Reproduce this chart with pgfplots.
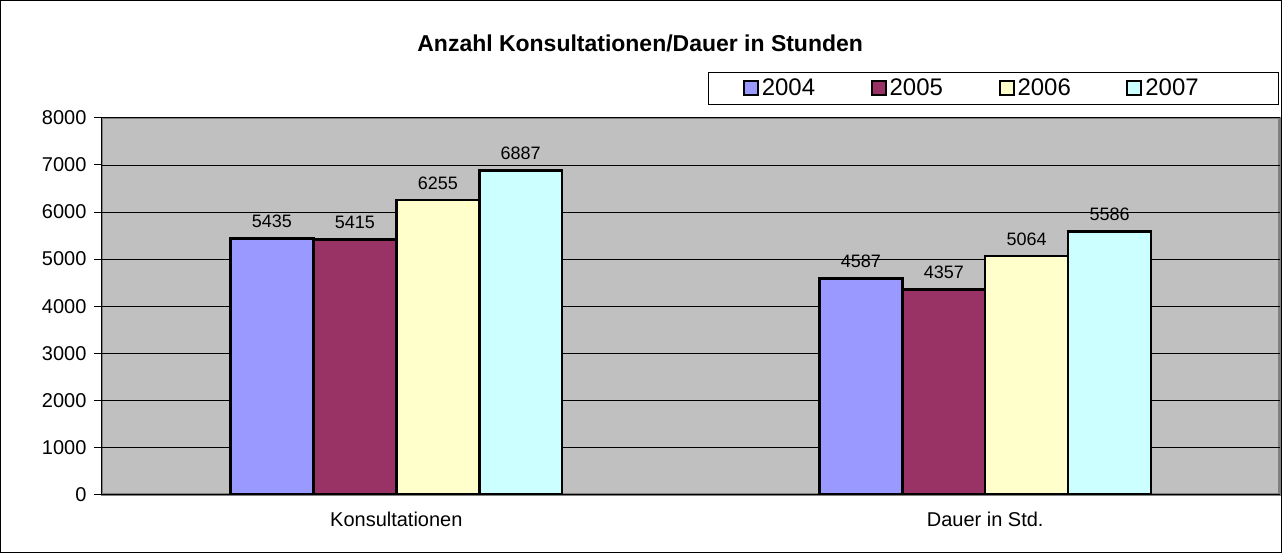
\documentclass[border=0pt]{standalone}
\usepackage{fontspec}
\setmainfont{Liberation Sans}
\usepackage{pgfplots}
\pgfplotsset{compat=1.18}

\definecolor{cA}{HTML}{9999FF}
\definecolor{cB}{HTML}{993366}
\definecolor{cC}{HTML}{FFFFCC}
\definecolor{cD}{HTML}{CCFFFF}
\definecolor{plotbg}{HTML}{C0C0C0}
\definecolor{rimgray}{HTML}{808080}

\begin{document}
\begin{tikzpicture}
\begin{axis}[
  scale only axis, width=1179pt, height=377pt,
  ybar,
  bar width=0.1408,
  xmin=-0.5, xmax=1.5,
  ymin=0, ymax=8000,
  xtick={0,1},
  xticklabels={Konsultationen, Dauer in Std.},
  major x tick style={draw=none},
  extra x ticks={-0.5,0.5,1.5},
  extra x tick labels={},
  extra x tick style={major tick length=8pt, tick style={black, line width=1pt}, grid=none},
  ytick={0,1000,...,8000},
  tick align=outside,
  major tick length=8pt,
  ytick style={black, line width=1pt},
  ymajorgrids,
  grid style={black, line width=0.8pt},
  axis x line*=bottom, axis y line*=left,
  axis line style={black, line width=1pt},
  axis background/.style={fill=plotbg, draw=rimgray, line width=2.5pt},
  /pgf/number format/assume math mode=true,
  scaled y ticks=false,
  yticklabel={\pgfmathprintnumber[fixed,1000 sep={}]{\tick}},
  yticklabel style={font=\fontsize{20}{23}\selectfont, xshift=-4pt},
  xticklabel style={font=\fontsize{20}{23}\selectfont, yshift=-6pt},
  title={\textbf{Anzahl Konsultationen/Dauer in Stunden}},
  title style={font=\fontsize{23}{27}\selectfont, at={(axis description cs:0.457,1.16)}, anchor=base},
  nodes near coords,
  nodes near coords style={font=\fontsize{18}{21}\selectfont, anchor=south, yshift=6pt, /pgf/number format/fixed, /pgf/number format/1000 sep={}},
  legend columns=4,
  legend image code/.code={\draw[#1, line width=2pt] (0pt,-7pt) rectangle (14pt,7pt);},
  legend style={at={(axis description cs:0.9992,1.0345)}, anchor=south east,
    draw=black, line width=1pt, fill=white,
    font=\fontsize{24}{28}\selectfont,
    inner xsep=34pt, inner ysep=5pt,
    nodes={text width=96pt, align=left, inner xsep=3pt},
    /tikz/every even column/.append style={column sep=10pt}},
]
\addplot[draw=black, line width=2.5pt, fill=cA, bar shift=-0.2112] coordinates {(0,5435) (1,4587)};
\addplot[draw=black, line width=2.5pt, fill=cB, bar shift=-0.0704] coordinates {(0,5415) (1,4357)};
\addplot[draw=black, line width=2.5pt, fill=cC, bar shift=0.0704] coordinates {(0,6255) (1,5064)};
\addplot[draw=black, line width=2.5pt, fill=cD, bar shift=0.2112] coordinates {(0,6887) (1,5586)};
\legend{2004,2005,2006,2007}
\end{axis}
\draw[line width=1pt] (-101.5pt,-58.5pt) rectangle (1180.5pt,494.5pt);
\end{tikzpicture}
\end{document}
